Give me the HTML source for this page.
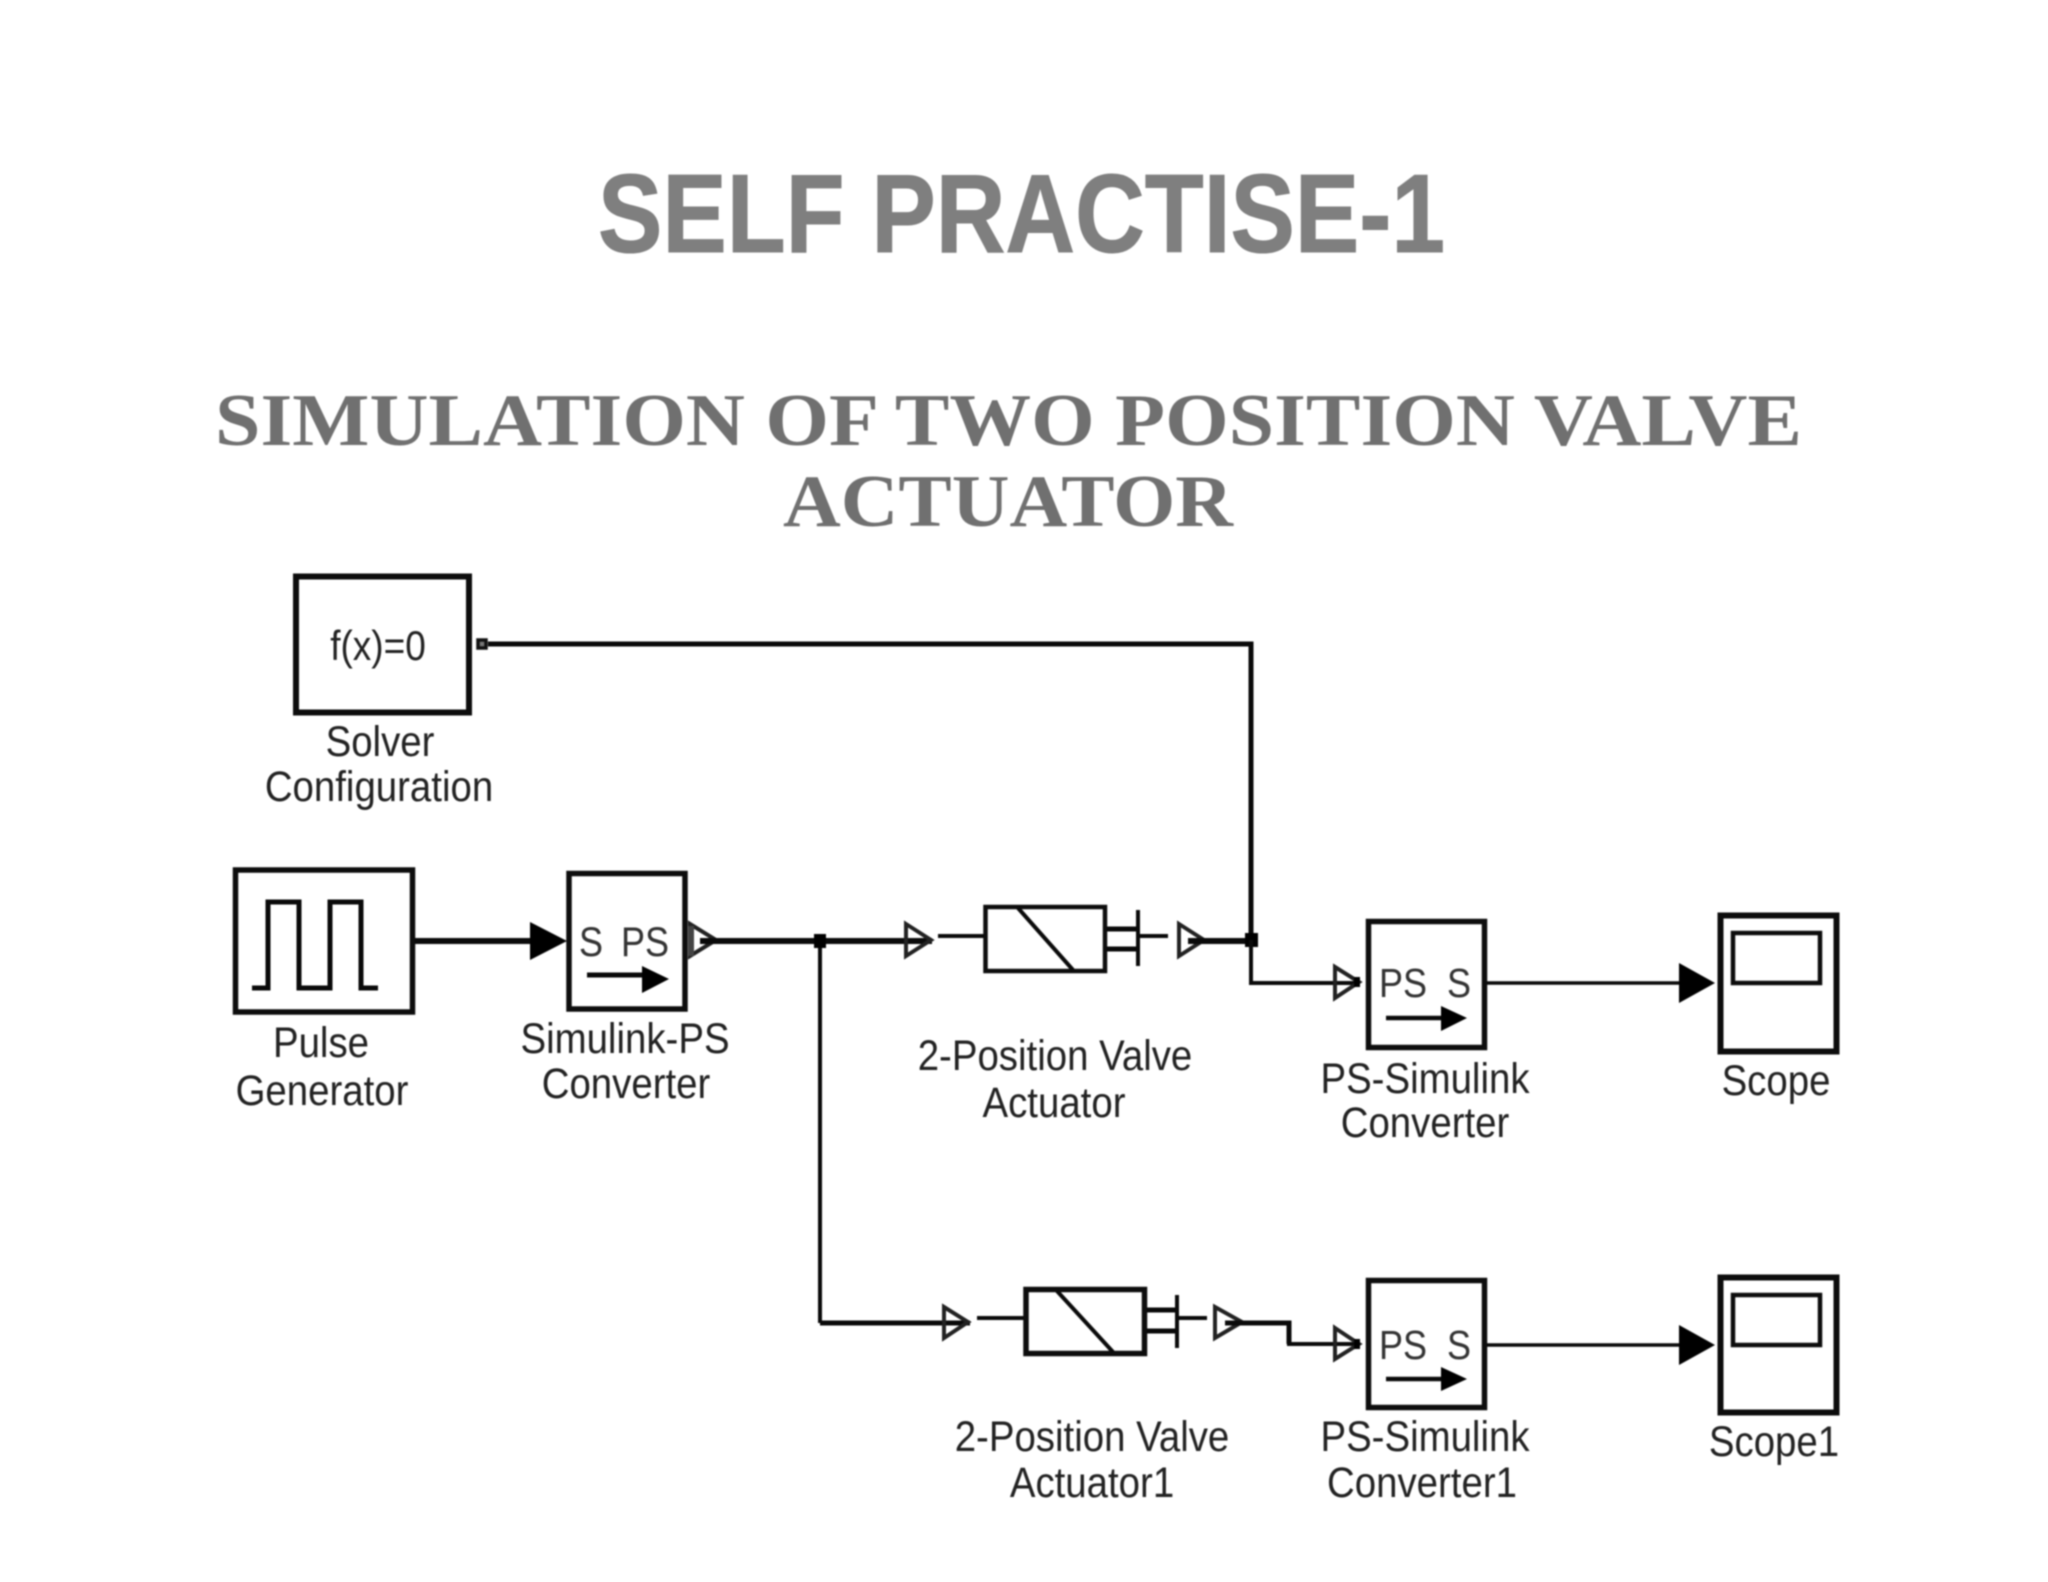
<!DOCTYPE html>
<html><head><meta charset="utf-8"><style>
html,body{margin:0;padding:0;background:#fff;width:2048px;height:1582px;overflow:hidden}
svg{display:block;filter:blur(.7px)}
.l{font-family:"Liberation Sans",sans-serif;font-size:38.4px;fill:#222;text-anchor:middle}
.p{font-family:"Liberation Sans",sans-serif;font-size:36px;fill:#333}
.b{fill:#fff;stroke:#0d0d0d;stroke-width:5.5}
.w{fill:none;stroke:#0a0a0a;stroke-linejoin:miter}
.port{fill:#fff;stroke:#222;stroke-width:4}
</style></head><body>
<svg width="2048" height="1582" viewBox="0 0 2048 1582" xmlns="http://www.w3.org/2000/svg">
<rect width="2048" height="1582" fill="#fff"/>
<text x="598" y="252" font-family="Liberation Sans,sans-serif" font-weight="bold" font-size="111" fill="#7f7f7f" stroke="#7f7f7f" stroke-width="1" textLength="847" lengthAdjust="spacingAndGlyphs">SELF PRACTISE-1</text>
<text x="215" y="445" font-family="Liberation Serif,serif" font-weight="bold" font-size="74" fill="#707070" textLength="1587" lengthAdjust="spacingAndGlyphs">SIMULATION OF TWO POSITION VALVE</text>
<text x="783" y="526" font-family="Liberation Serif,serif" font-weight="bold" font-size="74" fill="#707070" textLength="450" lengthAdjust="spacingAndGlyphs">ACTUATOR</text>

<!-- Solver -->
<rect class="b" x="296" y="576.5" width="173" height="136" style="stroke-width:6"/>
<text class="l" transform="translate(378,660) scale(1,1.12)" style="font-size:37px">f(x)=0</text>
<text class="l" transform="translate(380,756) scale(1,1.1)">Solver</text>
<text class="l" transform="translate(379,801) scale(1,1.1)">Configuration</text>
<rect x="478" y="640" width="8" height="8" fill="#777" stroke="#111" stroke-width="3.5"/>
<path class="w" stroke-width="5" d="M488 644H1251V940"/>

<!-- Pulse -->
<rect class="b" x="235.5" y="870" width="177" height="142"/>
<path class="w" stroke-width="5" d="M252 988H268V902H299V988H330V902H361V988H378"/>
<text class="l" transform="translate(321,1057) scale(1,1.1)">Pulse</text>
<text class="l" transform="translate(322,1105) scale(1,1.1)">Generator</text>
<path class="w" stroke-width="6" d="M415 941H532"/>
<path d="M530 922L567 941L530 960Z" fill="#000"/>

<!-- Simulink-PS -->
<rect class="b" x="569" y="873.5" width="116" height="135.5"/>
<text class="p" transform="translate(579,956) scale(1,1.16)">S</text>
<text class="p" transform="translate(621,956) scale(1,1.16)">PS</text>
<path class="w" stroke-width="5" d="M587 975H644"/>
<path d="M642 966L669 979L642 993Z" fill="#000"/>
<text class="l" transform="translate(625,1053) scale(1,1.1)">Simulink-PS</text>
<text class="l" transform="translate(626,1098) scale(1,1.1)">Converter</text>
<path class="port" d="M690 924L716 940L690 956Z"/>
<rect x="688" y="926" width="6" height="30" fill="#444"/>
<path class="w" stroke-width="6" d="M700 941H932"/>
<path class="w" stroke-width="4" d="M820 941V1323"/>
<path class="w" stroke-width="5" d="M820 1323H970"/>
<rect x="814" y="934" width="12" height="14" fill="#000"/>

<!-- Valve 1 -->
<path class="port" d="M906 924L931 940L906 956Z" style="fill:none"/>
<path class="w" stroke-width="4" d="M938 936H984M1140 936H1168M1138 910V966"/>
<rect class="b" x="985.5" y="907" width="119.5" height="64" style="stroke-width:4.5"/>
<path class="w" stroke-width="5" d="M1107 929H1138M1107 949H1138"/>
<path class="w" stroke-width="4" d="M1018 908L1073 970"/>
<text class="l" transform="translate(1055,1070) scale(1,1.1)">2-Position Valve</text>
<text class="l" transform="translate(1054,1117) scale(1,1.1)">Actuator</text>
<path class="port" d="M1179 924L1204 940L1179 956Z"/>
<path class="w" stroke-width="6" d="M1188 941H1251"/>
<rect x="1245" y="933" width="13" height="14" fill="#000"/>
<path class="w" stroke-width="4" d="M1251 940V983H1359"/>
<path class="port" d="M1335 967L1359 982L1335 998Z" style="fill:none"/>
<rect x="1354" y="977" width="6" height="10" fill="#000"/>

<!-- PS-S 1 -->
<rect class="b" x="1368.5" y="921.5" width="116" height="126"/>
<text class="p" transform="translate(1379,997) scale(1,1.13)">PS</text>
<text class="p" transform="translate(1447,997) scale(1,1.13)">S</text>
<path class="w" stroke-width="4.5" d="M1386 1018H1444"/>
<path d="M1441 1006L1467 1018L1441 1031Z" fill="#000"/>
<text class="l" transform="translate(1425,1093) scale(1,1.1)">PS-Simulink</text>
<text class="l" transform="translate(1425,1137) scale(1,1.1)">Converter</text>
<path class="w" stroke-width="3.5" d="M1487 983H1682"/>
<path d="M1679 963L1715 983L1679 1003Z" fill="#000"/>

<!-- Scope -->
<rect class="b" x="1720.5" y="915.5" width="116" height="136" style="stroke-width:6"/>
<rect class="b" x="1733" y="933" width="87" height="50" style="stroke-width:4.5"/>
<text class="l" transform="translate(1776,1095) scale(1,1.1)">Scope</text>

<!-- Valve 2 -->
<path class="port" d="M944 1307L968 1322L944 1338Z" style="fill:none"/>
<path class="w" stroke-width="4" d="M977 1318H1025M1178 1318H1207M1177 1295V1348"/>
<rect class="b" x="1026" y="1289.5" width="118.5" height="64"/>
<path class="w" stroke-width="4" d="M1057 1291L1113 1352"/>
<path class="w" stroke-width="5" d="M1147 1310H1177M1147 1331H1177"/>
<text class="l" transform="translate(1092,1451) scale(1,1.1)">2-Position Valve</text>
<text class="l" transform="translate(1092,1497) scale(1,1.1)">Actuator1</text>
<path class="port" d="M1215 1307L1242 1322L1215 1338Z"/>
<path class="w" stroke-width="5" d="M1225 1323H1289V1344"/>
<path class="w" stroke-width="4" d="M1287 1344H1359"/>
<path class="port" d="M1335 1328L1359 1344L1335 1359Z" style="fill:none"/>
<rect x="1354" y="1339" width="6" height="10" fill="#000"/>

<!-- PS-S 2 -->
<rect class="b" x="1368.5" y="1280.5" width="116" height="127"/>
<text class="p" transform="translate(1379,1359) scale(1,1.13)">PS</text>
<text class="p" transform="translate(1447,1359) scale(1,1.13)">S</text>
<path class="w" stroke-width="4.5" d="M1386 1379H1444"/>
<path d="M1441 1367L1467 1379L1441 1391Z" fill="#000"/>
<text class="l" transform="translate(1425,1451) scale(1,1.1)">PS-Simulink</text>
<text class="l" transform="translate(1422,1497) scale(1,1.1)">Converter1</text>
<path class="w" stroke-width="3.5" d="M1487 1345H1682"/>
<path d="M1679 1325L1715 1345L1679 1365Z" fill="#000"/>

<!-- Scope1 -->
<rect class="b" x="1720.5" y="1277.5" width="116" height="135" style="stroke-width:6"/>
<rect class="b" x="1733" y="1295" width="87" height="50" style="stroke-width:4.5"/>
<text class="l" transform="translate(1774,1456) scale(1,1.1)">Scope1</text>
</svg>
</body></html>
